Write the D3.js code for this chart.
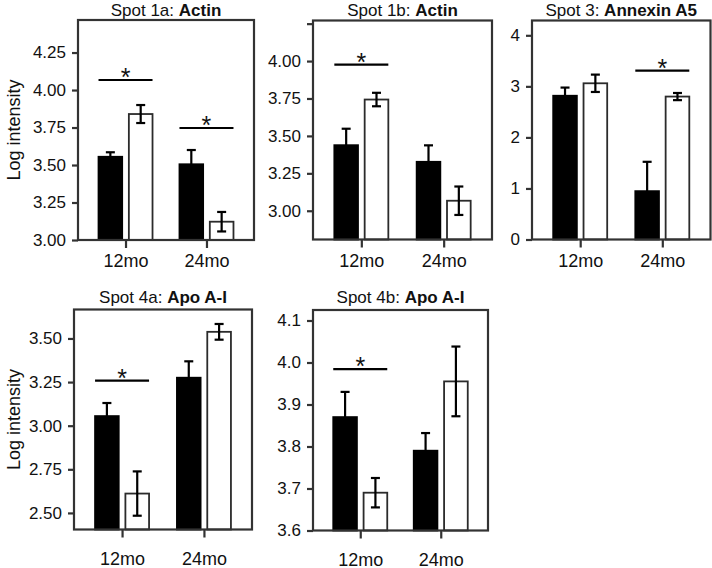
<!DOCTYPE html>
<html><head><meta charset="utf-8">
<script src="https://cdn.jsdelivr.net/npm/d3@7"></script>
<style>
body{margin:0;background:#fff;}
svg text{font-family:"Liberation Sans",Arial,Helvetica,sans-serif;fill:#111;}
</style>
</head><body>
<svg id="chart" width="712" height="568"></svg>
<script>
// ---------- DATA ----------
const groups = ["12mo", "24mo"];
const seriesKeys = ["filled", "open"];

const titlePlain = ["Spot 1a: ", "Spot 1b: ", "Spot 3: ", "Spot 4a: ", "Spot 4b: "];
const titleBold  = ["Actin", "Actin", "Annexin A5", "Apo A-I", "Apo A-I"];

// value order: 12mo filled, 12mo open, 24mo filled, 24mo open
const means1a = [3.555, 3.84, 3.505, 3.122];
const errs1a  = [0.03, 0.06, 0.095, 0.065];
const means1b = [3.438, 3.743, 3.327, 3.067];
const errs1b  = [0.11, 0.045, 0.11, 0.095];
const means3  = [2.816, 3.06, 0.947, 2.80];
const errs3   = [0.16, 0.17, 0.575, 0.07];
const means4a = [3.055, 2.611, 3.275, 3.538];
const errs4a  = [0.075, 0.127, 0.094, 0.045];
const means4b = [3.87, 3.69, 3.79, 3.955];
const errs4b  = [0.06, 0.035, 0.042, 0.083];

const domain1a = [3.0, 4.467];
const domain1b = [2.808, 4.271];
const domain3  = [0, 4.29];
const domain4a = [2.405, 3.666];
const domain4b = [3.6, 4.125];

const ticks1a = [3.00, 3.25, 3.50, 3.75, 4.00, 4.25];
const tickLabels1a = ["3.00", "3.25", "3.50", "3.75", "4.00", "4.25"];
const ticks1b = [3.00, 3.25, 3.50, 3.75, 4.00, 4.25];
const tickLabels1b = ["3.00", "3.25", "3.50", "3.75", "4.00", ""];
const ticks3 = [0, 1, 2, 3, 4];
const tickLabels3 = ["0", "1", "2", "3", "4"];
const ticks4a = [2.50, 2.75, 3.00, 3.25, 3.50];
const tickLabels4a = ["2.50", "2.75", "3.00", "3.25", "3.50"];
const ticks4b = [3.6, 3.7, 3.8, 3.9, 4.0, 4.1];
const tickLabels4b = ["3.6", "3.7", "3.8", "3.9", "4.0", "4.1"];

// significance bars: [group, level]
const sig1a = [["12mo", 4.067], ["24mo", 3.747]];
const sig1b = [["12mo", 3.976]];
const sig3  = [["24mo", 3.31]];
const sig4a = [["12mo", 3.258]];
const sig4b = [["12mo", 3.984]];

const yLabel = "Log intensity";

// ---------- LAYOUT ----------
const frames = [
  {l: 78,  r: 254, t: 20,   b: 240,   lab: true,  xLabOff: 27, titleY: 15.5},
  {l: 313, r: 492, t: 20.5, b: 239.5, lab: false, xLabOff: 27, titleY: 15.5},
  {l: 532, r: 710.5, t: 20.5, b: 239.5, lab: false, xLabOff: 27, titleY: 15.5},
  {l: 74,  r: 252, t: 309.5, b: 529.5, lab: true,  xLabOff: 35, titleY: 303},
  {l: 313, r: 488, t: 310,  b: 530.5, lab: false, xLabOff: 35, titleY: 303}
];

const panelData = [
  {means: means1a, errs: errs1a, domain: domain1a, ticks: ticks1a, labels: tickLabels1a, sig: sig1a},
  {means: means1b, errs: errs1b, domain: domain1b, ticks: ticks1b, labels: tickLabels1b, sig: sig1b},
  {means: means3,  errs: errs3,  domain: domain3,  ticks: ticks3,  labels: tickLabels3,  sig: sig3},
  {means: means4a, errs: errs4a, domain: domain4a, ticks: ticks4a, labels: tickLabels4a, sig: sig4a},
  {means: means4b, errs: errs4b, domain: domain4b, ticks: ticks4b, labels: tickLabels4b, sig: sig4b}
];

const svg = d3.select("#chart");
const FONT = '"Liberation Sans",Arial,Helvetica,sans-serif';
const frameColor = "#333";

panelData.forEach((pd, i) => {
  const f = frames[i];
  const g = svg.append("g");
  const y = d3.scaleLinear().domain(pd.domain).range([f.b, f.t]);
  const x = d3.scalePoint().domain(groups).range([f.l, f.r]).padding(0.587);
  const xs = d3.scaleBand().domain(seriesKeys).range([-27, 27]).paddingInner(0.22);

  const data = [];
  groups.forEach((gr, gi) => seriesKeys.forEach((s, si) => {
    data.push({g: gr, s: s, m: pd.means[gi * 2 + si], e: pd.errs[gi * 2 + si]});
  }));

  // bars
  g.selectAll("rect.bar").data(data).join("rect")
    .attr("class", "bar")
    .attr("x", d => x(d.g) + xs(d.s))
    .attr("width", xs.bandwidth())
    .attr("y", d => y(d.m))
    .attr("height", d => y(pd.domain[0]) - y(d.m))
    .attr("fill", d => d.s === "filled" ? "#000" : "#fff")
    .attr("stroke", d => d.s === "filled" ? "#000" : "#2b2b2b")
    .attr("stroke-width", 1.8);

  // error bars
  const capW = 9;
  const eg = g.append("g").attr("stroke", "#000").attr("stroke-width", 2.2).attr("fill", "none");
  data.forEach(d => {
    const cx = x(d.g) + xs(d.s) + xs.bandwidth() / 2;
    const y1 = y(d.m + d.e), y0 = y(d.m - d.e);
    eg.append("line").attr("x1", cx).attr("x2", cx).attr("y1", y1).attr("y2", y0);
    eg.append("line").attr("x1", cx - capW / 2).attr("x2", cx + capW / 2).attr("y1", y1).attr("y2", y1);
    eg.append("line").attr("x1", cx - capW / 2).attr("x2", cx + capW / 2).attr("y1", y0).attr("y2", y0);
  });

  // frame
  g.append("rect")
    .attr("x", f.l).attr("y", f.t)
    .attr("width", f.r - f.l).attr("height", f.b - f.t)
    .attr("fill", "none").attr("stroke", frameColor).attr("stroke-width", 2.2);

  // y axis
  const ya = d3.axisLeft(y).tickValues(pd.ticks)
    .tickFormat((d, k) => pd.labels[k]).tickSize(6).tickPadding(6);
  const yg = g.append("g").attr("transform", `translate(${f.l},0)`).call(ya);
  yg.select(".domain").remove();
  yg.attr("font-family", FONT).attr("font-size", 17);
  yg.selectAll(".tick line").attr("stroke", frameColor).attr("stroke-width", 2.2);
  yg.selectAll(".tick text").attr("fill", "#111");

  // x axis
  const xa = d3.axisBottom(x).tickSize(8).tickPadding(0);
  const xg = g.append("g").attr("transform", `translate(0,${f.b})`).call(xa);
  xg.select(".domain").remove();
  xg.attr("font-family", FONT).attr("font-size", 18);
  xg.selectAll(".tick line").attr("stroke", frameColor).attr("stroke-width", 2.2);
  xg.selectAll(".tick text").attr("y", f.xLabOff).attr("dy", null).attr("fill", "#111");

  // significance
  pd.sig.forEach(([gr, lvl]) => {
    const cx = x(gr);
    const yy = y(lvl);
    g.append("line").attr("x1", cx - 27).attr("x2", cx + 27).attr("y1", yy).attr("y2", yy)
      .attr("stroke", "#000").attr("stroke-width", 2.2);
    g.append("text").attr("x", cx).attr("y", yy + 6).attr("text-anchor", "middle")
      .attr("font-size", 25).text("*");
  });

  // title
  const t = g.append("text")
    .attr("x", (f.l + f.r) / 2).attr("y", f.titleY)
    .attr("text-anchor", "middle").attr("font-size", 17);
  t.append("tspan").text(titlePlain[i]);
  t.append("tspan").attr("font-weight", "bold").text(titleBold[i]);

  // y label
  if (f.lab) {
    g.append("text")
      .attr("transform", `translate(20,${(f.t + f.b) / 2})rotate(-90)`)
      .attr("text-anchor", "middle").attr("font-size", 18).text(yLabel);
  }
});
</script>
</body></html>
